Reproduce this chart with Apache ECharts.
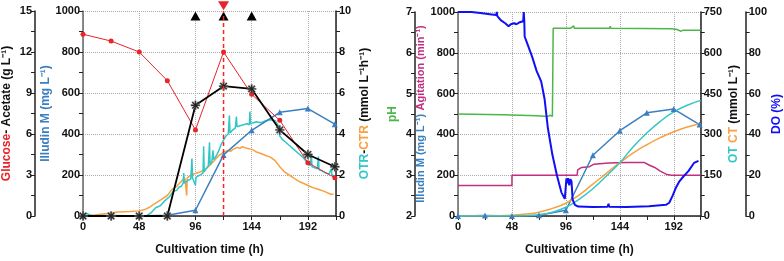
<!DOCTYPE html>
<html>
<head>
<meta charset="utf-8">
<script src="https://cdn.jsdelivr.net/npm/echarts@6/dist/echarts.min.js"></script>
<style>
html,body{margin:0;padding:0;background:#fff;}
#main{width:784px;height:261px;}
</style>
</head>
<body>
<div id="main"></div>
<script>
// sampling times of the offline data (h)
var sampleTime = [0, 24, 48, 72, 96, 120, 144, 168, 192, 215];
// offline data, left panel
var glucose = [13.3, 12.8, 12.0, 9.9, 6.3, 12.0, 8.9, 7.0, 3.9, 2.8];   // g/L
var acetate = [0, 0, 0, 0, 8.1, 9.5, 9.3, 6.3, 4.5, 3.6];               // g/L
var illudin = [0, 3, 0, 4, 28, 298, 418, 506, 524, 448];                 // mg/L
// events marked above the plot (h)
var feedTimes = [96, 120, 144];
var shiftTime = [120];

// online OTR / CTR (mmol/L/h)
var otr = [[0,0.1],[3,0.12],[6,0.05],[9,0],[54,0],[58,0.15],[62,0.4],[66,0.5],[70,0.75],[74,0.95],[77,1.2],[80,1.25],[82,1.4],[84,1.45],[85.5,1.6],[86,2.1],[86.5,1.6],[88,1.65],[90,1.75],[91,1.7],[92,1.8],[93,2.8],[93.5,1.85],[95,1.9],[96,1.5],[96.5,1.9],[98,1.95],[100,2.0],[102.5,2.1],[103,3.4],[103.5,2.15],[105,2.3],[107,2.45],[108,3.6],[108.5,2.5],[110,2.65],[111,3.2],[111.5,2.75],[114,2.95],[116,3.2],[118,3.5],[120,3.7],[122,3.9],[124,4.0],[125,4.9],[125.5,4.05],[127,4.15],[130,4.3],[131,4.85],[131.5,4.35],[134,4.4],[137,4.45],[140,4.5],[142,4.45],[142.5,5.1],[143,4.5],[148,4.6],[152,4.55],[156,4.65],[160,4.7],[164,4.65],[167,4.4],[168,3.9],[170,3.75],[173,3.6],[176,3.45],[180,3.25],[184,3.05],[188,2.85],[190,2.7],[192,2.55],[194,2.45],[195,3.0],[195.5,2.4],[198,2.35],[200,2.3],[201,2.9],[201.5,2.25],[204,2.2],[207,2.1],[210,2.05],[212,2.3],[212.5,2.0],[215,1.95]];
var ctr = [[0,0],[10,0.05],[20,0.12],[30,0.2],[40,0.22],[48,0.25],[52,0.3],[56,0.4],[60,0.55],[64,0.7],[68,0.85],[72,1.0],[76,1.3],[80,1.45],[84,1.7],[87,1.85],[88,1.9],[88.5,1.0],[89,1.85],[92,2.0],[96,2.07],[100,2.15],[104,2.25],[108,2.45],[112,2.7],[116,2.95],[120,3.12],[124,3.2],[126,3.15],[128,3.25],[132,3.35],[134,3.3],[136,3.38],[140,3.3],[144,3.25],[146,3.2],[148,3.12],[152,3.05],[156,2.95],[160,2.87],[164,2.7],[168,2.4],[172,2.15],[176,2.0],[180,1.85],[185,1.67],[190,1.55],[194,1.44],[198,1.35],[202,1.28],[206,1.2],[210,1.1],[212,1.05],[214,1.08]];

// right panel online data
var ph = [[0,4.5],[40,4.48],[70,4.46],[80,4.44],[82,4.47],[84,4.44],[84.7,4.44],[84.7,6.6],[100,6.6],[103,6.66],[103.5,6.6],[135,6.6],[135.5,6.65],[136,6.6],[190,6.59],[195,6.57],[198,6.53],[200,6.55],[216,6.55]];
var agitation = [[0,150],[48,150],[48,200],[106,200],[106.5,226],[110,238],[117,242],[121,254],[134,260],[150,262],[166,262],[170,250],[175,238],[180,220],[186,203],[190,200],[216,200]];
var dox = [[0,100],[12,100],[20,99.5],[30,98.8],[34,98.5],[34.5,100],[35,98],[38,96],[42,94.5],[45,93],[47,94],[48,93.5],[50,94.5],[52,94],[55,95],[58,95.5],[58.5,100],[59,95.5],[59.3,88],[62,84],[66,78],[70,71],[74,66],[77,57.5],[80,43],[84,30],[88,20],[92,11.6],[95,8.4],[96,9],[96.5,18.5],[97,16],[98,18.5],[99,15],[100,18],[101,17],[102,8],[104,5.5],[107,4.6],[120,4.4],[133,4.5],[134,6],[134.5,4.5],[150,4.4],[170,4.8],[185,5.5],[188,6.5],[191,10],[194,14],[197,17],[200,19],[205,22],[210,26],[214,27]];
var ot = [[0,0],[48,0],[60,1],[72,5],[84,14],[96,32],[108,62],[120,100],[132,147],[144,196],[156,255],[168,305],[180,348],[192,383],[204,407],[216,425]];
var ct = [[0,0],[24,0.5],[48,3],[60,7],[72,14],[84,28],[96,47],[108,78],[120,117],[132,157],[144,196],[156,232],[168,262],[180,288],[192,310],[204,327],[216,340]];

var RED = '#e8232a', BLUE = '#3b7fc0', CYAN = '#33c6c6', ORANGE = '#f7a143',
    GREEN = '#4cb649', MAG = '#c22f7f', DOBLUE = '#1010f5';
var FONT = 'Liberation Sans';
var asterisk = 'path://M-0.8,-5H0.8V-1.9L3,-4.1L4.1,-3L1.9,-0.8H5V0.8H1.9L4.1,3L3,4.1L0.8,1.9V5H-0.8V1.9L-3,4.1L-4.1,3L-1.9,0.8H-5V-0.8H-1.9L-4.1,-3L-3,-4.1L-0.8,-1.9Z';

function pairs(t, v){
    var out = [];
    for (var i = 0; i < t.length; i++) out.push([t[i], v[i]]);
    return out;
}

function xAx(grid){
    return {
        type: 'value', gridIndex: grid, min: 0, max: 216, interval: 48,
        name: 'Cultivation time (h)', nameLocation: 'middle', nameGap: 28,
        nameTextStyle: {fontFamily: FONT, fontWeight: 'bold', fontSize: 12, color: '#111'},
        axisLine: {lineStyle: {color: '#222', width: 1.5}},
        axisTick: {length: 4, lineStyle: {color: '#222'}},
        minorTick: {show: true, splitNumber: 2, length: 4, lineStyle: {color: '#222'}},
        axisLabel: {fontFamily: FONT, fontWeight: 'bold', fontSize: 11, color: '#111', margin: 5,
            formatter: function(v){ return v === 216 ? '' : String(v); }},
        splitLine: {show: true, lineStyle: {color: '#aaa', type: 'dotted'}}
    };
}

function yAx(o){
    return {
        type: 'value', gridIndex: o.grid, position: o.pos, offset: o.offset || 0,
        min: o.min, max: o.max, interval: o.interval,
        name: o.name, nameLocation: 'middle', nameGap: o.gap,
        nameTextStyle: {fontFamily: FONT, fontWeight: 'bold', fontSize: o.nameSize || 12, color: o.nameColor || '#111', rich: o.rich || {}},
        axisLine: {show: true, lineStyle: {color: o.lineColor || '#222', width: 1.5}},
        axisTick: {show: true, length: 4, lineStyle: {color: '#222'}},
        minorTick: {show: true, splitNumber: 2, length: 4, lineStyle: {color: '#222'}},
        axisLabel: {fontFamily: FONT, fontWeight: 'bold', fontSize: 11, color: '#111', margin: 3,
            formatter: function(v){ return String(v); }},
        splitLine: {show: !!o.split, lineStyle: {color: '#aaa', type: 'dotted'}}
    };
}

function richStyle(c, size){ return {color: c, fontFamily: FONT, fontWeight: 'bold', fontSize: size || 12}; }

var myChart = echarts.init(document.getElementById('main'));
var option = {
    animation: false,
    grid: [
        {left: 83, top: 11, width: 253, height: 209},
        {left: 458, top: 12, width: 247, height: 207}
    ],
    xAxis: [xAx(0), xAx(1)],
    yAxis: [
        yAx({grid: 0, pos: 'left', min: 0, max: 1000, interval: 200, split: true, lineColor: '#666',
             name: 'Illudin M (mg L⁻¹)', nameColor: BLUE, gap: 30}),
        yAx({grid: 0, pos: 'left', offset: 48, min: 0, max: 15, interval: 3, gap: 22,
             name: '{r|Glucose}{k|- Acetate (g L⁻¹)}', rich: {r: richStyle(RED), k: richStyle('#111')}}),
        yAx({grid: 0, pos: 'right', min: 0, max: 10, interval: 2, gap: 23,
             name: '{c|OTR}{k|-}{o|CTR}{k| (mmol L⁻¹h⁻¹)}',
             rich: {c: richStyle(CYAN), o: richStyle(ORANGE), k: richStyle('#111')}}),
        yAx({grid: 1, pos: 'left', min: 0, max: 1000, interval: 200, split: true, lineColor: '#666', gap: 28,
             name: '{b|Illudin M (mg L⁻¹)} {m|Agitation (min⁻¹)}',
             rich: {b: richStyle(BLUE, 11), m: richStyle(MAG, 11)}}),
        yAx({grid: 1, pos: 'left', offset: 43, min: 2, max: 7, interval: 1, gap: 16,
             name: 'pH', nameColor: GREEN}),
        yAx({grid: 1, pos: 'right', min: 0, max: 750, interval: 150, gap: 27,
             name: '{c|OT} {o|CT} {k|(mmol L⁻¹)}',
             rich: {c: richStyle(CYAN), o: richStyle(ORANGE), k: richStyle('#111')}}),
        yAx({grid: 1, pos: 'right', offset: 45, min: 0, max: 100, interval: 20, gap: 21,
             name: 'DO (%)', nameColor: DOBLUE})
    ],
    series: [
        // left panel
        {type: 'line', xAxisIndex: 0, yAxisIndex: 2, data: ctr, showSymbol: false,
         lineStyle: {color: ORANGE, width: 1.5}, itemStyle: {color: ORANGE}},
        {type: 'line', xAxisIndex: 0, yAxisIndex: 2, data: otr, showSymbol: false,
         lineStyle: {color: CYAN, width: 1.5}, itemStyle: {color: CYAN}},
        {type: 'line', xAxisIndex: 0, yAxisIndex: 0, data: [[shiftTime[0], 0], [shiftTime[0], 1000]],
         showSymbol: false, silent: true, z: 5, itemStyle: {color: '#ff2020'},
         lineStyle: {color: '#ff2020', type: [4, 3], width: 1.5, opacity: 1}},
        {type: 'line', xAxisIndex: 0, yAxisIndex: 0, data: pairs(sampleTime, illudin),
         symbol: 'triangle', symbolSize: 6, lineStyle: {color: BLUE, width: 1.5}, itemStyle: {color: BLUE}},
        {type: 'line', xAxisIndex: 0, yAxisIndex: 1, data: pairs(sampleTime, glucose),
         symbol: 'circle', symbolSize: 5, lineStyle: {color: RED, width: 1}, itemStyle: {color: RED}},
        {type: 'line', xAxisIndex: 0, yAxisIndex: 1, data: pairs(sampleTime, acetate),
         symbol: asterisk, symbolSize: 9, lineStyle: {color: '#000', width: 1.8},
         itemStyle: {color: '#222', borderColor: '#777', borderWidth: 0.5}},
        {type: 'scatter', xAxisIndex: 0, yAxisIndex: 0, clip: false, symbol: 'triangle', symbolSize: [10, 9],
         itemStyle: {color: '#000', opacity: 1}, data: feedTimes.map(function(t){ return [t, 976]; })},
        {type: 'scatter', xAxisIndex: 0, yAxisIndex: 0, clip: false, symbol: 'triangle', symbolRotate: 180,
         symbolSize: [11, 9], itemStyle: {color: RED, opacity: 1}, data: shiftTime.map(function(t){ return [t, 1026]; })},
        // right panel
        {type: 'line', xAxisIndex: 1, yAxisIndex: 4, data: ph, showSymbol: false,
         lineStyle: {color: GREEN, width: 1.5}},
        {type: 'line', xAxisIndex: 1, yAxisIndex: 3, data: agitation, showSymbol: false,
         lineStyle: {color: MAG, width: 1.5}},
        {type: 'line', xAxisIndex: 1, yAxisIndex: 3, data: pairs(sampleTime, illudin),
         symbol: 'triangle', symbolSize: 6, lineStyle: {color: BLUE, width: 1.5}, itemStyle: {color: BLUE}},
        {type: 'line', xAxisIndex: 1, yAxisIndex: 5, data: ct, smooth: true, showSymbol: false,
         lineStyle: {color: ORANGE, width: 1.5}},
        {type: 'line', xAxisIndex: 1, yAxisIndex: 5, data: ot, smooth: true, showSymbol: false,
         lineStyle: {color: CYAN, width: 1.5}},
        {type: 'line', xAxisIndex: 1, yAxisIndex: 6, data: dox, showSymbol: false,
         lineStyle: {color: DOBLUE, width: 2}}
    ]
};
myChart.setOption(option);
</script>
</body>
</html>
